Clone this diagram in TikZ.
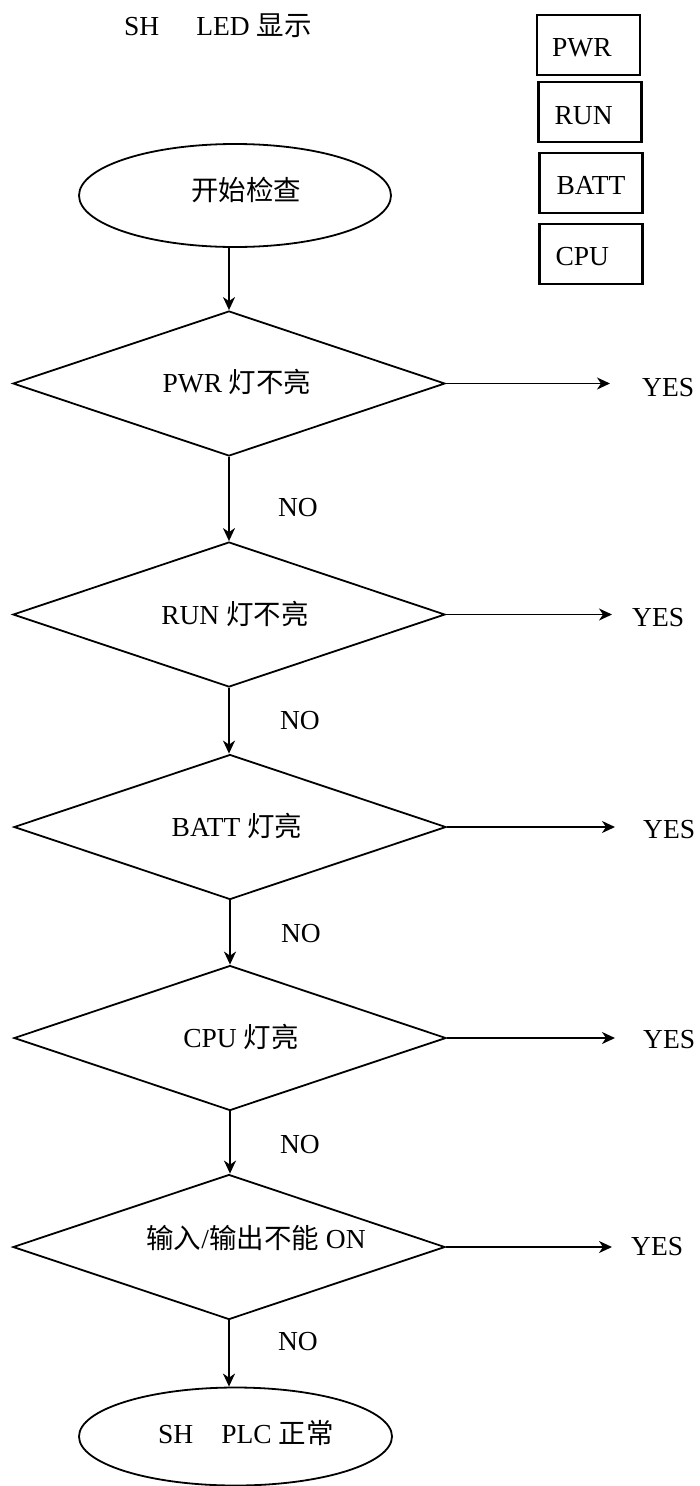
\documentclass[tikz,border=0pt]{standalone}
\usepackage{fontspec}
\setmainfont{Liberation Serif}
\newfontfamily\cjk{Noto Sans CJK SC}
\usetikzlibrary{shapes.geometric,arrows.meta,calc}
\begin{document}
\begin{tikzpicture}[x=1pt,y=-1pt,
  every node/.style={font=\fontsize{27.5}{33}\selectfont, inner sep=0pt},
  decision/.style={draw, diamond, line width=1.8pt, minimum width=432pt, minimum height=145pt, inner sep=0pt},
  term/.style={draw, ellipse, line width=1.8pt, inner sep=0pt},
  ledbox/.style={draw, rectangle, line width=2.2pt, minimum width=103pt, minimum height=60pt},
  flow/.style={-{Stealth[length=13pt,width=12pt,inset=4pt]}, line width=1.8pt},
  lbl/.style={anchor=base},
  lblw/.style={anchor=base west},
]
\useasboundingbox (0,0) rectangle (699,1486);

% title
\node[lblw] (title) at (124,35) {SH\hspace{37pt}LED {\cjk 显示}};

% LED boxes
\node[ledbox] (bpwr)  at (588.5,45)  {};
\node[ledbox] (brun)  at (590,112)   {};
\node[ledbox] (bbatt) at (591,183)   {};
\node[ledbox] (bcpu)  at (591,254)   {};
\node[lblw] (tpwr)  at ($(bpwr.west)+(16,11)$)  {PWR};
\node[lblw] (trun)  at ($(brun.west)+(17,12)$)  {RUN};
\node[lblw] (tbatt) at ($(bbatt.west)+(18,11)$) {BATT};
\node[lblw] (tcpu)  at ($(bcpu.west)+(17,11)$)  {CPU};

% start
\node[term, minimum width=312pt, minimum height=103pt] (start) at (235,195.5) {};
\node (starttxt) at (246,190) {\cjk 开始检查};

% decisions
\node[decision] (d1) at (229,383.5) {};
\node[decision] (d2) at (229,614.5) {};
\node[decision] (d3) at (230,827) {};
\node[decision] (d4) at (230,1038) {};
\node[decision] (d5) at (229,1247) {};

\node[lbl] (d1t) at (237,392.5)  {PWR {\cjk 灯不亮}};
\node[lbl] (d2t) at (235,624)    {RUN {\cjk 灯不亮}};
\node[lbl] (d3t) at (237,836.5)  {BATT {\cjk 灯亮}};
\node[lbl] (d4t) at (241,1047.5) {CPU {\cjk 灯亮}};
\node[lbl] (d5t) at (256,1248.5) {{\cjk 输入}/{\cjk 输出不能} ON};

% end
\node[term, minimum width=313pt, minimum height=98pt] (stop) at (235.5,1436.5) {};
\node[lblw] (stoptxt) at (158,1443) {SH\hspace{28pt}PLC {\cjk 正常}};

% vertical flow
\draw[flow] (d1.north |- start.south) -- (d1.north);
\draw[flow] (d1.south) -- (d2.north);
\draw[flow] (d2.south) -- (d2.south |- d3.north);
\draw[flow] (d3.south) -- (d3.south |- d4.north);
\draw[flow] (d4.south) -- (d4.south |- d5.north);
\draw[flow] (d5.south) -- (d5.south |- stop.north);

% NO labels
\node[lbl] (no1) at (298,516)  {NO};
\node[lbl] (no2) at (300,729)  {NO};
\node[lbl] (no3) at (301,942)  {NO};
\node[lbl] (no4) at (300,1153) {NO};
\node[lbl] (no5) at (298,1350) {NO};

% YES branches
\node[lblw] (y1) at (642,396)  {YES};
\node[lblw] (y2) at (632,626)  {YES};
\node[lblw] (y3) at (643,838)  {YES};
\node[lblw] (y4) at (643,1048) {YES};
\node[lblw] (y5) at (631,1255) {YES};
\coordinate (t1) at (610,384);
\coordinate (t2) at (612,614.5);
\coordinate (t3) at (615,827);
\coordinate (t4) at (615,1038);
\coordinate (t5) at (612,1247);
\draw[flow] (d1.east) -- (d1.east -| t1);
\draw[flow] (d2.east) -- (d2.east -| t2);
\draw[flow] (d3.east) -- (d3.east -| t3);
\draw[flow] (d4.east) -- (d4.east -| t4);
\draw[flow] (d5.east) -- (d5.east -| t5);
\end{tikzpicture}
\end{document}
